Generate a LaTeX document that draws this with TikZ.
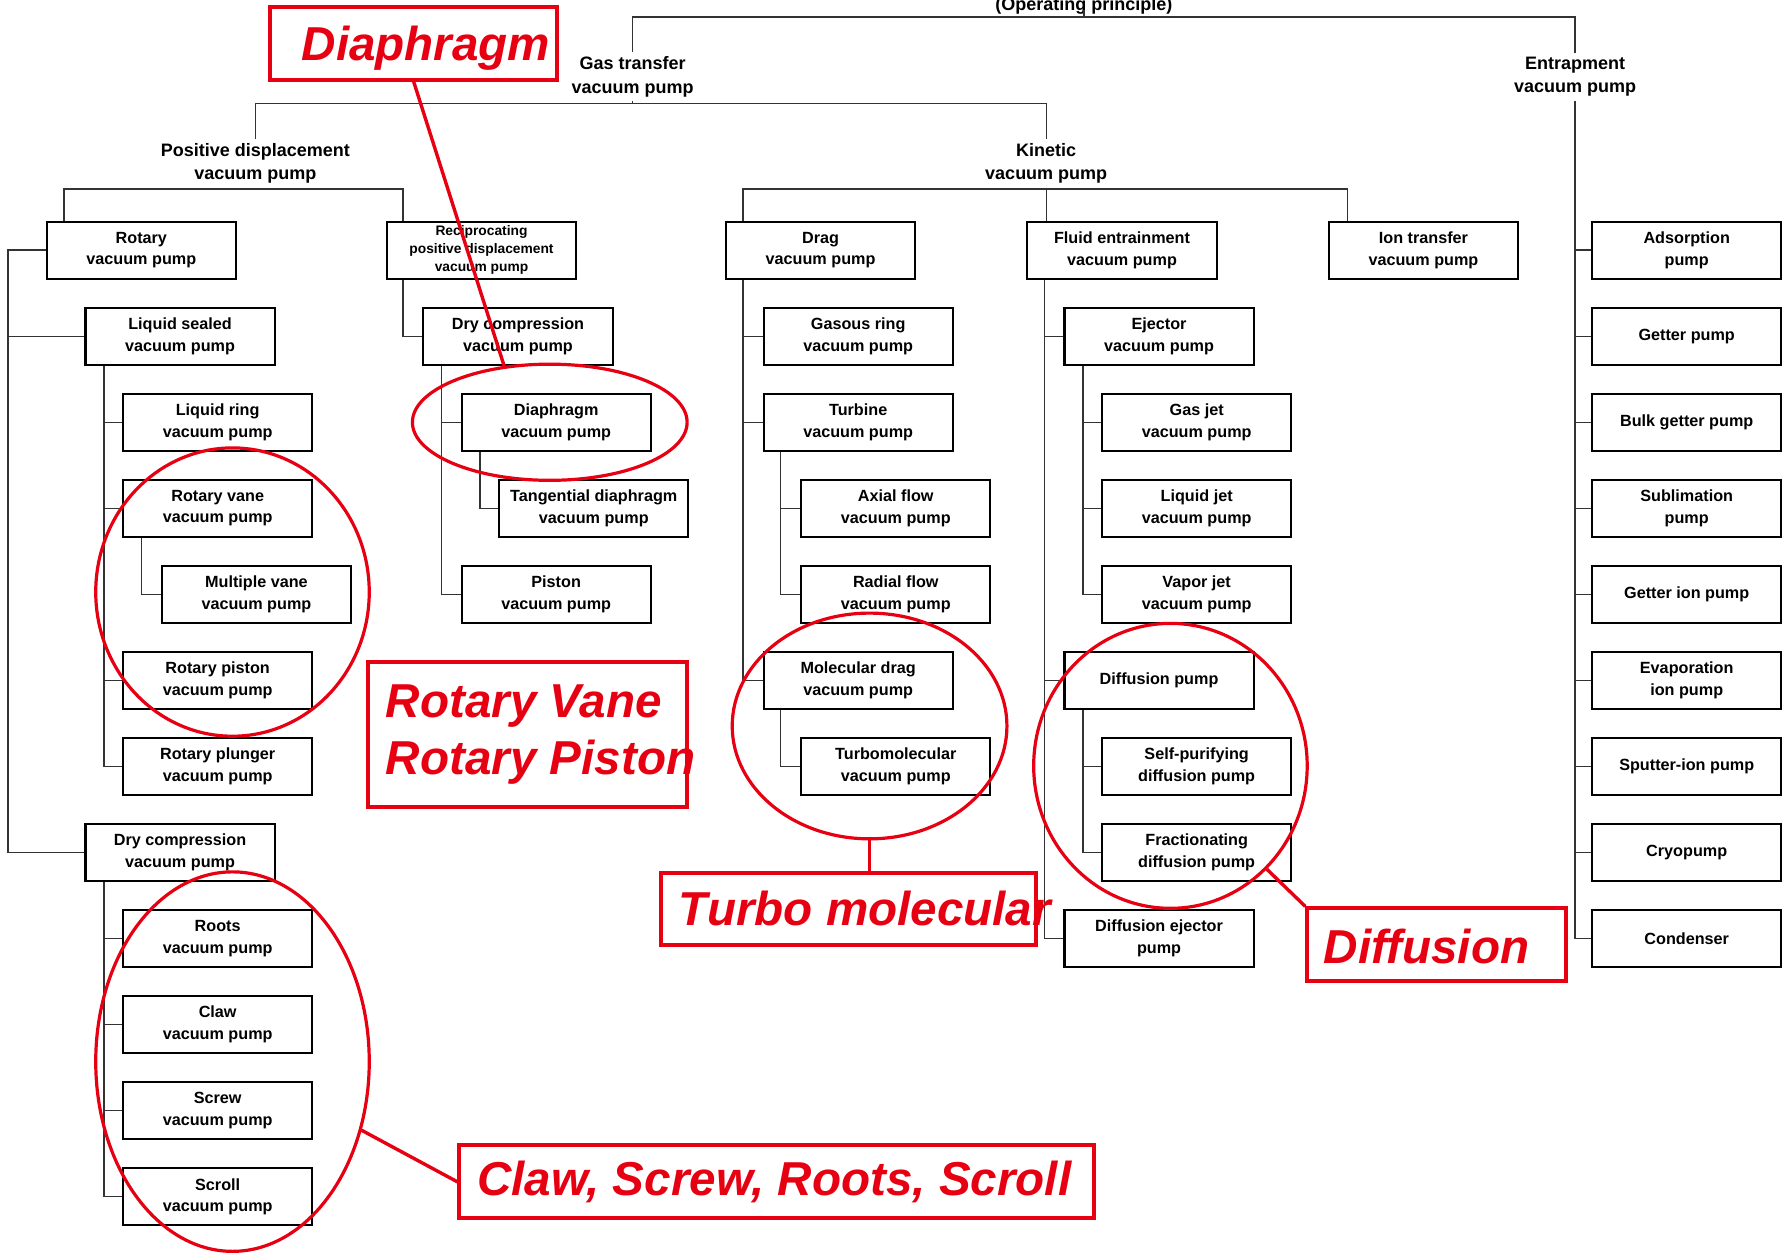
\documentclass[tikz,border=0pt]{standalone}
\usepackage{fontspec}
\setmainfont{Liberation Sans}
\usepackage{tikz}
\usetikzlibrary{shapes, calc}
\definecolor{annred}{RGB}{230,0,18}
\tikzstyle{pump} = [rectangle, minimum width=94.6pt, minimum height=28.5pt, inner sep=1pt, align=center, draw=black, line width=1.05pt, fill=white, font=\fontsize{8.1}{10.8}\selectfont\bfseries]
\tikzstyle{group} = [align=center, inner sep=2pt, font=\fontsize{9}{11.7}\selectfont\bfseries]
\tikzstyle{link} = [draw=black!80, line width=0.7pt]
\tikzstyle{hilite} = [ellipse, draw=annred, line width=1.6pt, inner sep=0pt]
\tikzstyle{tagbox} = [rectangle, draw=annred, line width=1.9pt, inner sep=0pt]
\tikzstyle{tagtext} = [anchor=west, inner sep=0pt, text=annred, align=left, font=\fontsize{23.8}{28.8}\selectfont\bfseries\itshape]
\tikzstyle{tagline} = [draw=annred, line width=1.7pt]

\begin{document}
\begin{tikzpicture}[x=0.57pt, y=-0.57pt]
\useasboundingbox (0,0) rectangle (1568,1099.5);

% group headings
\node (op) [group, anchor=base] at (951,8.8) {(Operating principle)};
\node (gas) [group] at (555,67.5) {Gas transfer \\ vacuum pump};
\node (ent) [group] at (1382,67.5) {Entrapment \\ vacuum pump};
\node (pd) [group] at (224,143.5) {Positive displacement \\ vacuum pump};
\node (kin) [group] at (918,143.5) {Kinetic \\ vacuum pump};

% positive displacement
\node (rot) [pump] at (124,219.5) {Rotary \\ vacuum pump};
\node (lsealed) [pump] at (158,295) {Liquid sealed \\ vacuum pump};
\node (lring) [pump] at (191,370.5) {Liquid ring \\ vacuum pump};
\node (rvane) [pump] at (191,446) {Rotary vane \\ vacuum pump};
\node (mvane) [pump] at (225,521.5) {Multiple vane \\ vacuum pump};
\node (rpiston) [pump] at (191,597) {Rotary piston \\ vacuum pump};
\node (rplunger) [pump] at (191,672.5) {Rotary plunger \\ vacuum pump};
\node (drycomp) [pump] at (158,748) {Dry compression \\ vacuum pump};
\node (roots) [pump] at (191,823.5) {Roots \\ vacuum pump};
\node (claw) [pump] at (191,899) {Claw \\ vacuum pump};
\node (screw) [pump] at (191,974.5) {Screw \\ vacuum pump};
\node (scroll) [pump] at (191,1050) {Scroll \\ vacuum pump};
\node (recip) [pump, font=\fontsize{6.9}{9.1}\selectfont\bfseries] at (422.5,219.5) {Reciprocating \\ positive displacement \\ vacuum pump};
\node (drycomp2) [pump] at (454.5,295) {Dry compression \\ vacuum pump};
\node (diaph) [pump] at (488,370.5) {Diaphragm \\ vacuum pump};
\node (tangd) [pump] at (521,446) {Tangential diaphragm \\ vacuum pump};
\node (piston) [pump] at (488,521.5) {Piston \\ vacuum pump};

% kinetic
\node (drag) [pump] at (720,219.5) {Drag \\ vacuum pump};
\node (gasring) [pump] at (753,295) {Gasous ring \\ vacuum pump};
\node (turbine) [pump] at (753,370.5) {Turbine \\ vacuum pump};
\node (axial) [pump] at (786,446) {Axial flow \\ vacuum pump};
\node (radial) [pump] at (786,521.5) {Radial flow \\ vacuum pump};
\node (moldrag) [pump] at (753,597) {Molecular drag \\ vacuum pump};
\node (turbo) [pump] at (786,672.5) {Turbomolecular \\ vacuum pump};
\node (fluid) [pump] at (984.5,219.5) {Fluid entrainment \\ vacuum pump};
\node (ejector) [pump] at (1017,295) {Ejector \\ vacuum pump};
\node (gasjet) [pump] at (1050,370.5) {Gas jet \\ vacuum pump};
\node (liqjet) [pump] at (1050,446) {Liquid jet \\ vacuum pump};
\node (vapjet) [pump] at (1050,521.5) {Vapor jet \\ vacuum pump};
\node (diffp) [pump] at (1017,597) {Diffusion pump};
\node (selfp) [pump] at (1050,672.5) {Self-purifying \\ diffusion pump};
\node (fract) [pump] at (1050,748) {Fractionating \\ diffusion pump};
\node (diffej) [pump] at (1017,823.5) {Diffusion ejector \\ pump};
\node (iontr) [pump] at (1249,219.5) {Ion transfer \\ vacuum pump};

% entrapment
\node (adsorp) [pump] at (1480,219.5) {Adsorption \\ pump};
\node (getter) [pump] at (1480,295) {Getter pump};
\node (bulkg) [pump] at (1480,370.5) {Bulk getter pump};
\node (sublim) [pump] at (1480,446) {Sublimation \\ pump};
\node (getion) [pump] at (1480,521.5) {Getter ion pump};
\node (evapion) [pump] at (1480,597) {Evaporation \\ ion pump};
\node (sputter) [pump] at (1480,672.5) {Sputter-ion pump};
\node (cryo) [pump] at (1480,748) {Cryopump};
\node (cond) [pump] at (1480,823.5) {Condenser};

% tree lines
\coordinate (bus1) at (0,15);
\coordinate (bus2) at (0,91);
\coordinate (bus3) at (0,166);
\draw [link] (op.base) -- (op.base |- bus1);
\draw [link] (gas.north) |- (op.base |- bus1) -| (ent.north);
\draw [link] (gas.south) -- (gas.south |- bus2);
\draw [link] (pd.north) |- (gas.south |- bus2) -| (kin.north);
\coordinate (rott) at ($(rot.north west)+(16,0)$);
\coordinate (recipt) at ($(recip.north west)+(15,0)$);
\draw [link] (rott) |- (pd.south |- bus3) -| (recipt);
\draw [link] (pd.south) -- (pd.south |- bus3);
\coordinate (dragt) at ($(drag.north west)+(16,0)$);
\coordinate (iont) at ($(iontr.north west)+(17,0)$);
\draw [link] (dragt) |- (kin.south |- bus3) -| (iont);
\draw [link] (kin.south) -- (kin.south |- fluid.north);

\coordinate (rotl) at ($(rot.west)+(-33,0)$);
\draw [link] (rot.west) -- (rotl) |- (lsealed.west) (rotl) |- (drycomp.west);
\coordinate (lst) at ($(lsealed.south west)+(17,0)$);
\draw [link] (lst) |- (lring.west) (lst) |- (rvane.west) (lst) |- (rpiston.west) (lst) |- (rplunger.west);
\coordinate (rvt) at ($(rvane.south west)+(17,0)$);
\draw [link] (rvt) |- (mvane.west);
\coordinate (dct) at ($(drycomp.south west)+(17,0)$);
\draw [link] (dct) |- (roots.west) (dct) |- (claw.west) (dct) |- (screw.west) (dct) |- (scroll.west);
\coordinate (recipb) at ($(recip.south west)+(15,0)$);
\draw [link] (recipb) |- (drycomp2.west);
\coordinate (dc2t) at ($(drycomp2.south west)+(17,0)$);
\draw [link] (dc2t) |- (diaph.west) (dc2t) |- (piston.west);
\coordinate (diat) at ($(diaph.south west)+(17,0)$);
\draw [link] (diat) |- (tangd.west);

\coordinate (dragb) at ($(drag.south west)+(16,0)$);
\draw [link] (dragb) |- (gasring.west) (dragb) |- (turbine.west) (dragb) |- (moldrag.west);
\coordinate (turbt) at ($(turbine.south west)+(16,0)$);
\draw [link] (turbt) |- (axial.west) (turbt) |- (radial.west);
\coordinate (molt) at ($(moldrag.south west)+(16,0)$);
\draw [link] (molt) |- (turbo.west);
\coordinate (fluidt) at ($(fluid.south west)+(16,0)$);
\draw [link] (fluidt) |- (ejector.west) (fluidt) |- (diffp.west) (fluidt) |- (diffej.west);
\coordinate (ejt) at ($(ejector.south west)+(17,0)$);
\draw [link] (ejt) |- (gasjet.west) (ejt) |- (liqjet.west) (ejt) |- (vapjet.west);
\coordinate (diffpt) at ($(diffp.south west)+(17,0)$);
\draw [link] (diffpt) |- (selfp.west) (diffpt) |- (fract.west);

\draw [link] (ent.south) |- (cond.west);
\draw [link] (ent.south |- adsorp.west) -- (adsorp.west);
\draw [link] (ent.south |- getter.west) -- (getter.west);
\draw [link] (ent.south |- bulkg.west) -- (bulkg.west);
\draw [link] (ent.south |- sublim.west) -- (sublim.west);
\draw [link] (ent.south |- getion.west) -- (getion.west);
\draw [link] (ent.south |- evapion.west) -- (evapion.west);
\draw [link] (ent.south |- sputter.west) -- (sputter.west);
\draw [link] (ent.south |- cryo.west) -- (cryo.west);

% red highlights
\node (eldia) [hilite, minimum width=137.4pt, minimum height=58.1pt] at (482.4,370.5) {};
\node (elrv) [hilite, minimum width=136.8pt, minimum height=144.2pt] at (204,519.5) {};
\node (eltur) [hilite, minimum width=137.4pt, minimum height=112.9pt] at (763,637) {};
\node (eldif) [hilite, minimum width=136.8pt, minimum height=142.5pt] at (1027,672) {};
\node (elcsr) [hilite, minimum width=136.8pt, minimum height=189.8pt] at (204,931.5) {};

\node (diabox) [tagbox, minimum width=143.6pt, minimum height=36.5pt] at (363,38) {};
\node (diatxt) [tagtext] at ($(diabox.west)+(29,4)$) {Diaphragm};
\node (rvbox) [tagbox, minimum width=159.6pt, minimum height=72.4pt] at (463,644.5) {};
\node (rvtxt) [tagtext] at ($(rvbox.west)+(17,0)$) {Rotary Vane \\ Rotary Piston};
\node (turbox) [tagbox, minimum width=187.5pt, minimum height=35.9pt] at (744.5,797.5) {};
\node (turtxt) [tagtext] at ($(turbox.west)+(17,0)$) {Turbo molecular};
\node (difbox) [tagbox, minimum width=129.4pt, minimum height=36.5pt] at (1260.5,829) {};
\node (diftxt) [tagtext] at ($(difbox.west)+(16,1.5)$) {Diffusion};
\node (csrbox) [tagbox, minimum width=317.5pt, minimum height=36.5pt] at (681.5,1037) {};
\node (csrtxt) [tagtext] at ($(csrbox.west)+(17,0.5)$) {Claw, Screw, Roots, Scroll};

\draw [tagline] (diabox.south) -- (eldia.129);
\draw [tagline] (eltur.south) -- (eltur.south |- turbox.north);
\draw [tagline] (eldif.-47) -- (difbox.north west);
\draw [tagline] (elcsr.-28) -- (csrbox.west);
\end{tikzpicture}
\end{document}
